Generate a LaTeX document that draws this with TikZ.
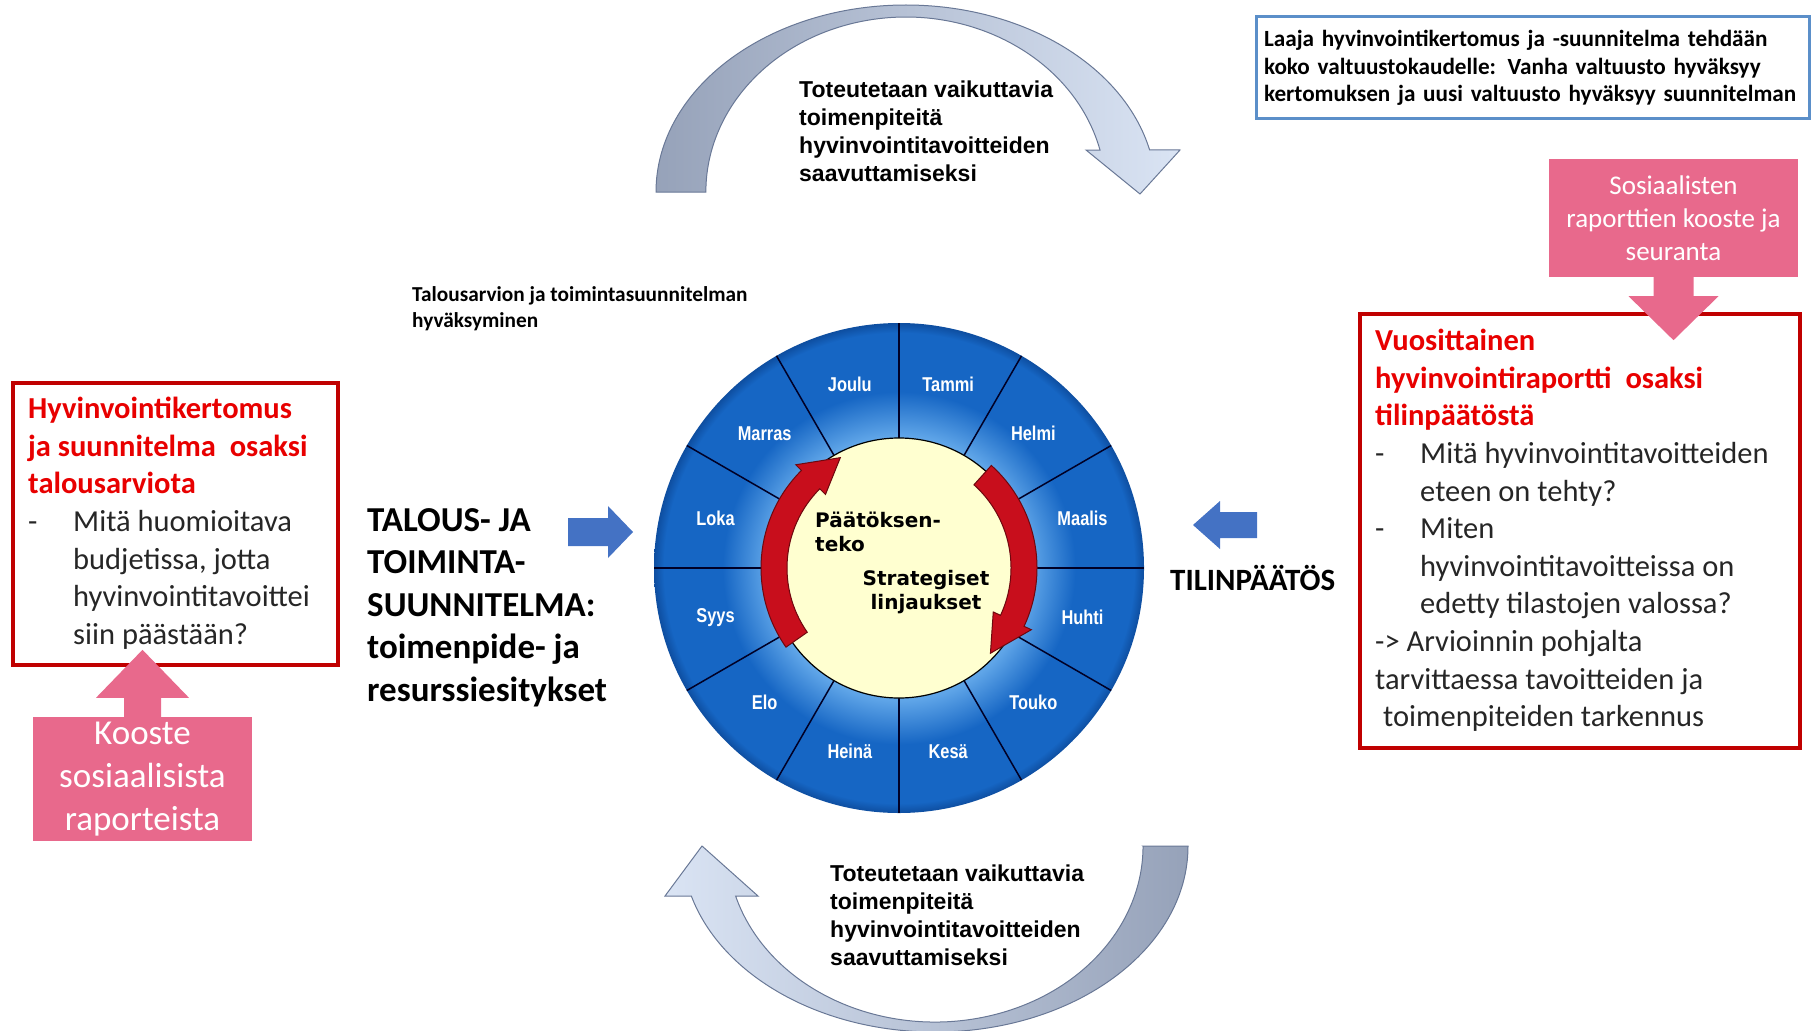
\documentclass[tikz,border=0pt]{standalone}
\usepackage{fontspec}
\setmainfont{Carlito}
\newfontfamily\arialfont{Liberation Sans}
\newfontfamily\narrowfont[FakeStretch=0.82]{Liberation Sans}
\newfontfamily\wheelfont{DejaVu Sans}
\usepackage{xcolor}
\usepackage{tikz}

\definecolor{wheelblue}{RGB}{22,102,196}
\definecolor{wheellight}{RGB}{95,165,232}
\definecolor{wheeldark}{RGB}{14,78,160}
\definecolor{creamfill}{RGB}{255,255,208}
\definecolor{arrowred}{RGB}{200,14,28}
\definecolor{boxred}{RGB}{192,0,0}
\definecolor{titlered}{RGB}{232,0,0}
\definecolor{pinkfill}{RGB}{232,105,140}
\definecolor{boxblue}{RGB}{91,143,201}
\definecolor{officeblue}{RGB}{68,114,196}
\definecolor{arcdark}{RGB}{150,162,185}
\definecolor{arclight}{RGB}{218,228,244}
\definecolor{arcline}{RGB}{105,120,150}
\definecolor{bodygrey}{RGB}{38,38,38}

\pgfdeclareradialshading{wheelshade}{\pgfpoint{0bp}{0bp}}{color(0bp)=(wheellight); color(13.5bp)=(wheellight); color(18bp)=(wheelblue); color(24bp)=(wheelblue); color(25bp)=(wheeldark); color(50bp)=(wheeldark)}

\newcommand{\redhead}[1]{\textcolor{titlered}{\textbf{#1}}}

\tikzset{
  bandarc/.style={draw=arcline, line width=1pt},
  arctext/.style={text=black, font=\arialfont\bfseries\fontsize{23}{28}\selectfont, align=left, anchor=north west, inner sep=0pt},
  month/.style={text=white, font=\narrowfont\bfseries\fontsize{20}{22}\selectfont, inner sep=0pt},
  hubtext/.style={text=black, font=\wheelfont\bfseries\fontsize{20}{24}\selectfont, inner sep=0pt},
  divider/.style={draw=black!85!blue, line width=1.5pt},
  redarrow/.style={fill=arrowred, draw=arrowred!55!black, line width=1pt},
  redframe/.style={draw=boxred, line width=4pt, inner sep=0pt},
  boxtext/.style={text=bodygrey, font=\fontsize{30.5}{37.6}\selectfont, align=left, anchor=north west, inner sep=0pt},
  pinkbox/.style={fill=pinkfill, text=white, align=center, inner sep=0pt},
  bigbold/.style={text=black, font=\bfseries\fontsize{35}{42.5}\selectfont, inner sep=0pt},
  noteblue/.style={draw=boxblue, line width=3pt, fill=white, text=black, align=left, font=\bfseries\fontsize{23.2}{27.7}\selectfont}
}

\begin{document}
\begin{tikzpicture}[x=1pt,y=1pt]

% page size of the reference
\useasboundingbox (0,0) rectangle (1811,-1030);

% upper curved arrow
\shade[bandarc, left color=arcdark, right color=arclight]
  (656,-192) arc[start angle=180, end angle=13, x radius=250, y radius=187]
  -- (1180,-150) -- (1140,-194) -- (1086,-150) -- (1100,-150)
  arc[start angle=13.9, end angle=180, x radius=200, y radius=175] -- cycle;
\node[arctext] (doingtop) at (799,-81)
  {Toteutetaan vaikuttavia\\toimenpiteitä\\hyvinvointitavoitteiden\\saavuttamiseksi};

% lower curved arrow
\shade[bandarc, left color=arclight, right color=arcdark]
  (1143,-846) -- (1188,-846) arc[start angle=0, end angle=-164.4, x radius=253, y radius=186]
  -- (665,-896) -- (702,-846) -- (758,-896) -- (735.6,-896)
  arc[start angle=-163.5, end angle=0, x radius=208, y radius=176] -- cycle;
\node[arctext] (doingbottom) at (830,-865)
  {Toteutetaan vaikuttavia\\toimenpiteitä\\hyvinvointitavoitteiden\\saavuttamiseksi};

% note on the council term
\node[noteblue, text width=537pt, inner xsep=8pt, inner ysep=0pt, minimum height=102pt] (notebox) at (1532.5,-68)
  {Laaja hyvinvointikertomus ja -suunnitelma tehdään\\koko valtuustokaudelle: Vanha valtuusto hyväksyy\\kertomuksen ja uusi valtuusto hyväksyy suunnitelman};

% month wheel
\begin{scope}[shift={(899,-568)}]
  \shade[shading=wheelshade] (0,0) circle (245);
  \foreach \a in {0,30,...,330}
    \draw[divider] (\a:130) -- (\a:245);
  \draw[fill=creamfill, line width=1.2pt] (0,0) circle (130);
  \foreach \a/\m [count=\i] in {75/Tammi, 45/Helmi, 15/Maalis, -15/Huhti, -45/Touko, -75/Kesä,
      -105/Heinä, -135/Elo, -165/Syys, 165/Loka, 135/Marras, 105/Joulu}
    \node[month] (month\i) at (\a:190) {\m};
  % red cycle arrows
  \filldraw[redarrow] (215:112) arc[start angle=215, end angle=135, radius=112]
    -- (135:104) -- (118:125) -- (135:146) -- (135:138)
    arc[start angle=135, end angle=215, radius=138] -- cycle;
  \filldraw[redarrow] (48:138) arc[start angle=48, end angle=-25, radius=138]
    -- (-25:146) -- (-43:125) -- (-25:104) -- (-25:112)
    arc[start angle=-25, end angle=48, radius=112] -- cycle;
\end{scope}
\node[hubtext, anchor=north west, align=left] (decision) at (815,-512) {Päätöksen-\\teko};
\node[hubtext, anchor=north, align=center] (strategy) at (926,-570) {Strategiset\\linjaukset};

% approval note above the wheel
\node[text=black, font=\bfseries\fontsize{21.3}{26}\selectfont, align=left, anchor=north west, inner sep=0pt]
  (approval) at (412,-286) {Talousarvion ja toimintasuunnitelman\\hyväksyminen};

% plan text and its arrow into the wheel
\node[bigbold, align=left, anchor=north west] (plantitle) at (367,-508)
  {TALOUS- JA\\TOIMINTA-\\SUUNNITELMA:\\toimenpide- ja\\resurssiesitykset};
\coordinate (planarrow) at (568,-532);
\fill[officeblue] (planarrow) ++(0,14) -- ++(40,0) -- ++(0,12) -- ++(25,-26)
  -- ++(-25,-26) -- ++(0,12) -- ++(-40,0) -- cycle;

% closing of accounts and its arrow into the wheel
\node[bigbold, font=\bfseries\fontsize{31}{37}\selectfont, anchor=base west] (closing) at (1170,-590) {TILINPÄÄTÖS};
\coordinate (closingarrow) at (1257,-525);
\fill[officeblue] (closingarrow) ++(0,13) -- ++(-37,0) -- ++(0,11) -- ++(-27,-24)
  -- ++(27,-24) -- ++(0,11) -- ++(37,0) -- cycle;

% left red box
\node[redframe, minimum width=325pt, minimum height=282pt] (planbox) at (175.5,-524) {};
\node[boxtext] (plantext) at (28,-397)
  {\redhead{Hyvinvointikertomus}\\
   \redhead{ja suunnitelma\ \ osaksi}\\
   \redhead{talousarviota}\\
   \makebox[45pt][l]{-}Mitä huomioitava\\
   \hspace*{45pt}budjetissa, jotta\\
   \hspace*{45pt}hyvinvointitavoittei\\
   \hspace*{45pt}siin päästään?};

% left pink box with arrow up
\node[pinkbox, minimum width=219pt, minimum height=124pt, font=\fontsize{35}{42.7}\selectfont]
  (koostebox) at (142.5,-779) {Kooste\\sosiaalisista\\raporteista};
\fill[pinkfill] ([xshift=-18.5pt]koostebox.north) -- ++(0,19) -- ++(-28,0) -- ++(46.5,48)
  -- ++(46.5,-48) -- ++(-28,0) -- ++(0,-19) -- cycle;

% right red box
\node[redframe, minimum width=440pt, minimum height=434pt] (reportbox) at (1580,-531) {};
\node[boxtext] (reporttext) at (1375,-329)
  {\redhead{Vuosittainen}\\
   \redhead{hyvinvointiraportti\ \ osaksi}\\
   \redhead{tilinpäätöstä}\\
   \makebox[45pt][l]{-}Mitä hyvinvointitavoitteiden\\
   \hspace*{45pt}eteen on tehty?\\
   \makebox[45pt][l]{-}Miten\\
   \hspace*{45pt}hyvinvointitavoitteissa on\\
   \hspace*{45pt}edetty tilastojen valossa?\\
   -> Arvioinnin pohjalta\\
   tarvittaessa tavoitteiden ja\\
   \hspace*{8pt}toimenpiteiden tarkennus};

% right pink box with arrow down
\node[pinkbox, minimum width=249pt, minimum height=118pt, font=\fontsize{27}{33}\selectfont]
  (sosbox) at (1673.5,-218) {Sosiaalisten\\raporttien kooste ja\\seuranta};
\fill[pinkfill] ([xshift=-20pt]sosbox.south) -- ++(40,0) -- ++(0,-19) -- ++(25,0)
  -- ++(-45,-44) -- ++(-45,44) -- ++(25,0) -- cycle;

\end{tikzpicture}
\end{document}
